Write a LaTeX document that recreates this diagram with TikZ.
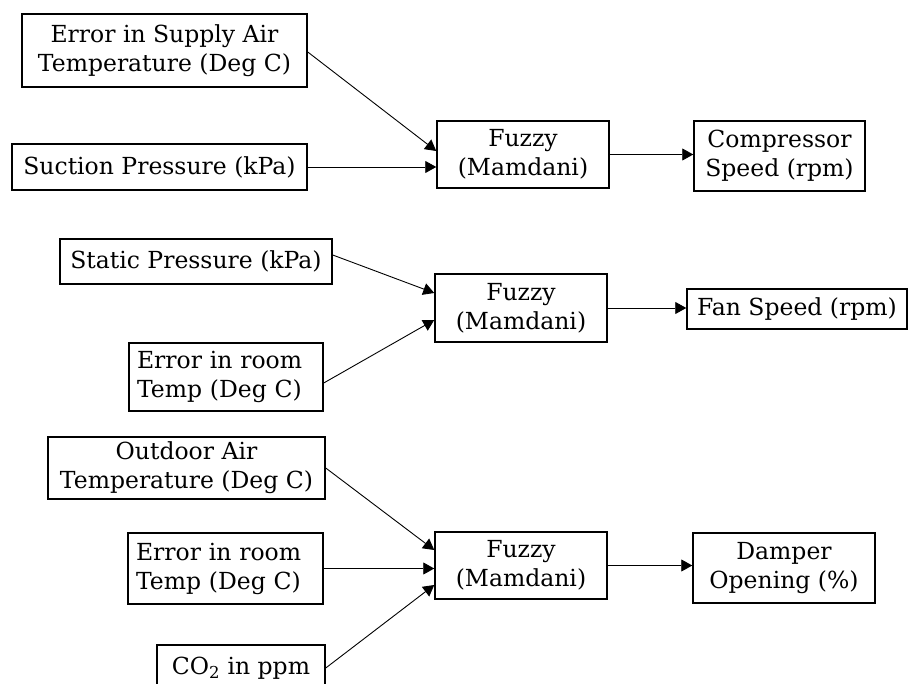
\documentclass[tikz,border=0pt]{standalone}
\usepackage{fontspec}
\setmainfont{DejaVu Serif}
\usetikzlibrary{arrows.meta}

\begin{document}
\begin{tikzpicture}[
        x=1pt, y=-1pt,
        box/.style={draw, line width=1.5pt, align=center, inner sep=1pt, font=\fontsize{23.5}{29}\selectfont},
        arr/.style={-{Triangle[length=11pt, width=12pt]}, line width=0.9pt}
      ]
      \useasboundingbox (0,0) rectangle (913,684);
      % first controller
      \node[box, minimum width=285pt, minimum height=73pt] (sat)  at (164.5,50.5) {Error in Supply Air\\Temperature (Deg C)};
      \node[box, minimum width=295pt, minimum height=46pt] (suc)  at (159.5,167)  {Suction Pressure (kPa)};
      \node[box, minimum width=172pt, minimum height=67pt] (fz1)  at (523,154.5)  {Fuzzy\\(Mamdani)};
      \node[box, minimum width=171pt, minimum height=70pt] (comp) at (779.5,156)  {Compressor\\Speed (rpm)};
      % second controller
      \node[box, minimum width=272pt, minimum height=45pt] (stat) at (196,261.5)  {Static Pressure (kPa)};
      \node[box, minimum width=194pt, minimum height=68pt, align=left, text width=178pt] (room1) at (226,377) {Error in room\\Temp (Deg C)};
      \node[box, minimum width=172pt, minimum height=68pt] (fz2)  at (521,308)    {Fuzzy\\(Mamdani)};
      \node[box, minimum width=220pt, minimum height=40pt] (fan)  at (797,309)    {Fan Speed (rpm)};
      % third controller
      \node[box, minimum width=277pt, minimum height=62pt] (out)  at (186.5,468)  {Outdoor Air\\Temperature (Deg C)};
      \node[box, minimum width=195pt, minimum height=71pt, align=left, text width=179pt] (room2) at (225.5,568.5) {Error in room\\Temp (Deg C)};
      \node[box, minimum width=168pt, minimum height=46pt] (co2)  at (241,668)    {CO\textsubscript{2} in ppm};
      \node[box, minimum width=172pt, minimum height=67pt] (fz3)  at (521,565.5)  {Fuzzy\\(Mamdani)};
      \node[box, minimum width=182pt, minimum height=70pt] (damp) at (784,568)    {Damper\\Opening (\%)};
      % connections
      \draw[arr] ([yshift=-1.5pt]sat.east) -- ([yshift=3.5pt]fz1.west);
      \draw[arr] (suc.east) -- (suc.east -| fz1.west);
      \draw[arr] (fz1.east) -- (fz1.east -| comp.west);
      \draw[arr] ([yshift=6.5pt]stat.east) -- ([yshift=15pt]fz2.west);
      \draw[arr] ([yshift=-6pt]room1.east) -- ([yshift=-12pt]fz2.west);
      \draw[arr] (fz2.east) -- (fz2.east -| fan.west);
      \draw[arr] (out.east) -- ([yshift=15.5pt]fz3.west);
      \draw[arr] (room2.east) -- (room2.east -| fz3.west);
      \draw[arr] (co2.east) -- ([yshift=-19.5pt]fz3.west);
      \draw[arr] (fz3.east) -- (fz3.east -| damp.west);
    \end{tikzpicture}
\end{document}
